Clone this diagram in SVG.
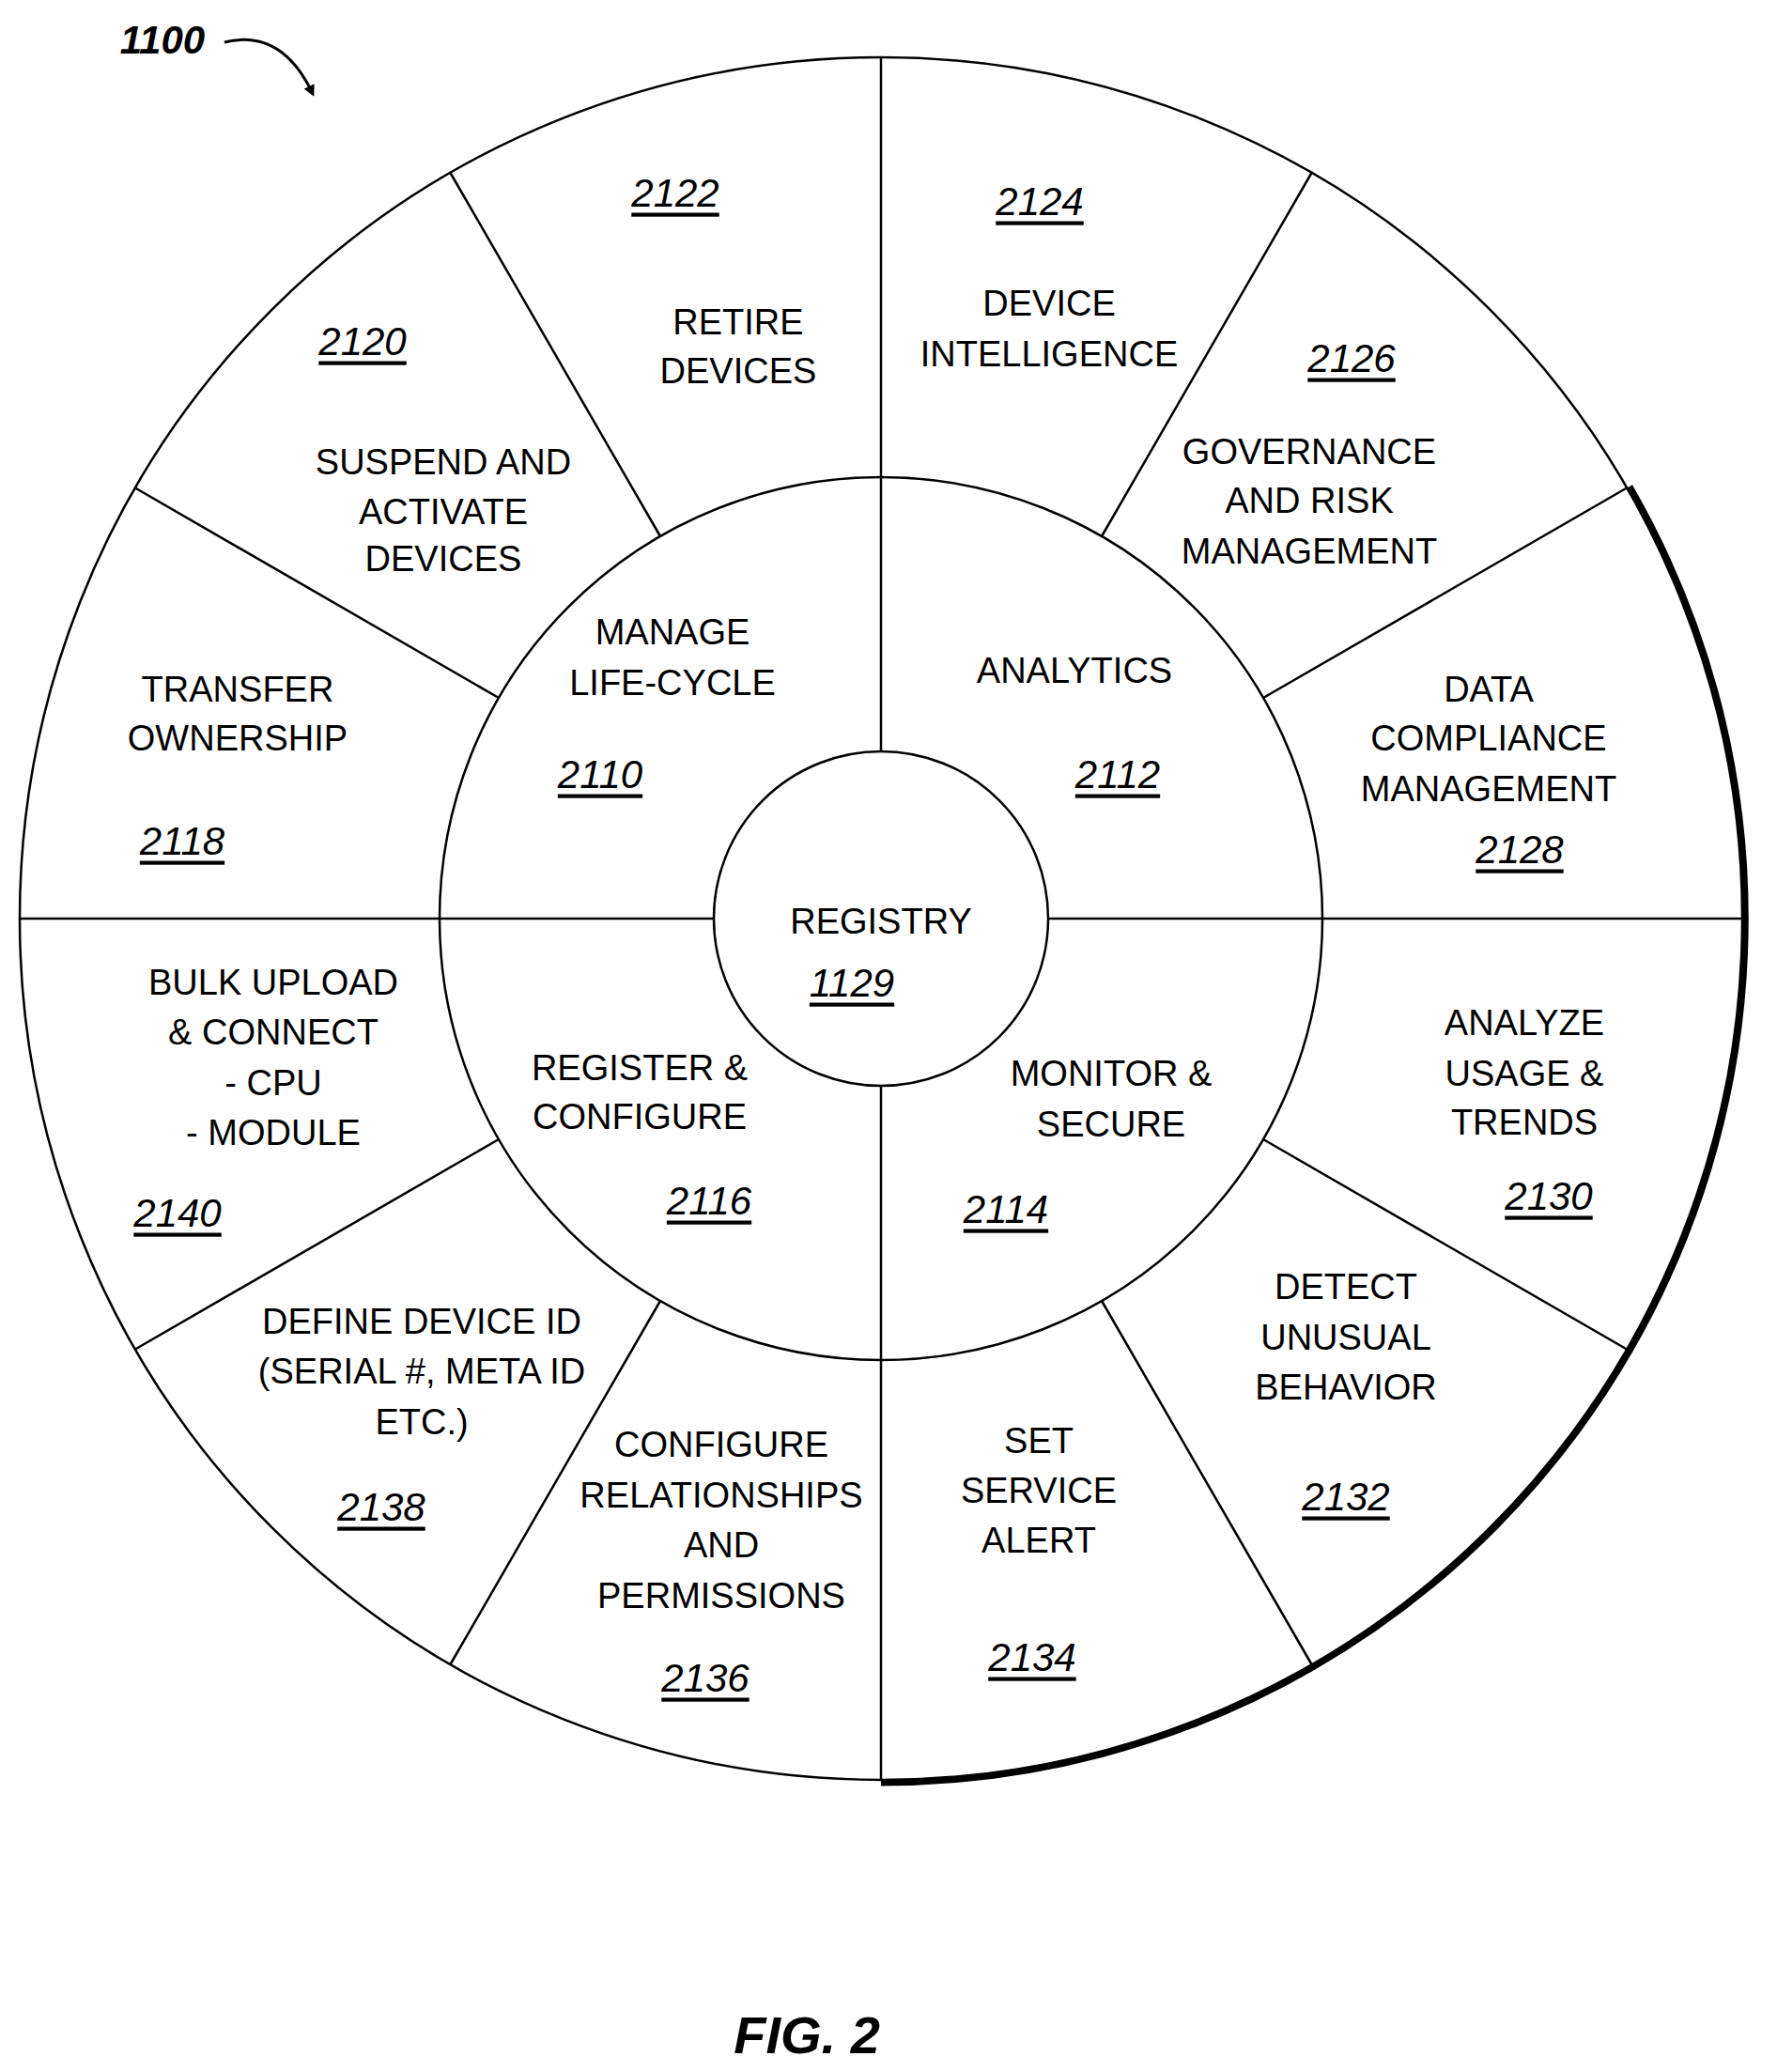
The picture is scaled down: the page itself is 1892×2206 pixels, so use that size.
<svg xmlns="http://www.w3.org/2000/svg" width="1892" height="2206" viewBox="0 0 1892 2206">
<style>
text{font-family:"Liberation Sans",Arial,sans-serif;font-size:38px;fill:#000;text-anchor:middle;dominant-baseline:central}
.n{font-style:italic;font-size:42px;text-decoration:underline}
.l{fill:none;stroke:#000;stroke-width:2.5}
</style>
<defs><marker id="ah" markerWidth="12" markerHeight="12" refX="9" refY="6" orient="auto" markerUnits="userSpaceOnUse"><path d="M0,0 L12,6 L0,12 Z"/></marker></defs>
<rect width="1892" height="2206" fill="#fff"/>
<g id="connectors">
<circle class="l" cx="938" cy="978" r="917"/>
<path d="M1735,518 A920,920 0 0 1 938,1898" fill="none" stroke="#000" stroke-width="7"/>
<circle class="l" cx="938" cy="978" r="470"/>
<circle class="l" cx="938" cy="978" r="178"/>
<path class="l" d="M938,61 V800 M938,1156 V1895 M21,978 H760 M1116,978 H1855"/>
<path class="l" d="M1345,743 L1732,519.5 M1173,571 L1396.5,184 M531,743 L144,519.5 M703,571 L479.5,184 M1345,1213 L1732,1436.5 M1173,1385 L1396.5,1772 M531,1213 L144,1436.5 M703,1385 L479.5,1772"/>
<path d="M239,45 Q300,30 333,100" fill="none" stroke="#000" stroke-width="3" marker-end="url(#ah)"/>
</g>
<g id="labels">
<text x="173" y="42" class="n" style="text-decoration:none;font-weight:bold">1100</text>
<text x="859" y="2166" style="font-style:italic;font-weight:bold;font-size:56px">FIG. 2</text>
</g>
<g id="n2122"><text x="719" y="205" class="n">2122</text><text x="786" y="343">RETIRE</text><text x="786" y="395">DEVICES</text></g>
<g id="n2124"><text x="1107" y="214" class="n">2124</text><text x="1117" y="323">DEVICE</text><text x="1117" y="377">INTELLIGENCE</text></g>
<g id="n2126"><text x="1439" y="381" class="n">2126</text><text x="1394" y="481">GOVERNANCE</text><text x="1394" y="533">AND RISK</text><text x="1394" y="587">MANAGEMENT</text></g>
<g id="n2120"><text x="386" y="363" class="n">2120</text><text x="472" y="492">SUSPEND AND</text><text x="472" y="545">ACTIVATE</text><text x="472" y="595">DEVICES</text></g>
<g id="n2118"><text x="253" y="734">TRANSFER</text><text x="253" y="786">OWNERSHIP</text><text x="194" y="895" class="n">2118</text></g>
<g id="n2110"><text x="716" y="673">MANAGE</text><text x="716" y="727">LIFE-CYCLE</text><text x="639" y="824" class="n">2110</text></g>
<g id="n2112"><text x="1144" y="714">ANALYTICS</text><text x="1190" y="824" class="n">2112</text></g>
<g id="n2128"><text x="1585" y="734">DATA</text><text x="1585" y="786">COMPLIANCE</text><text x="1585" y="840">MANAGEMENT</text><text x="1618" y="904" class="n">2128</text></g>
<g id="n1129"><text x="938" y="981">REGISTRY</text><text x="907" y="1046" class="n">1129</text></g>
<g id="n2140"><text x="291" y="1046">BULK UPLOAD</text><text x="291" y="1099">&amp; CONNECT</text><text x="291" y="1153">- CPU</text><text x="291" y="1206">- MODULE</text><text x="189" y="1291" class="n">2140</text></g>
<g id="n2116"><text x="681" y="1137">REGISTER &amp;</text><text x="681" y="1189">CONFIGURE</text><text x="755" y="1278" class="n">2116</text></g>
<g id="n2114"><text x="1183" y="1143">MONITOR &amp;</text><text x="1183" y="1197">SECURE</text><text x="1071" y="1287" class="n">2114</text></g>
<g id="n2130"><text x="1623" y="1089">ANALYZE</text><text x="1623" y="1143">USAGE &amp;</text><text x="1623" y="1195">TRENDS</text><text x="1649" y="1273" class="n">2130</text></g>
<g id="n2132"><text x="1433" y="1370">DETECT</text><text x="1433" y="1424">UNUSUAL</text><text x="1433" y="1477">BEHAVIOR</text><text x="1433" y="1593" class="n">2132</text></g>
<g id="n2138"><text x="449" y="1407">DEFINE DEVICE ID</text><text x="449" y="1460">(SERIAL #, META ID</text><text x="449" y="1514">ETC.)</text><text x="406" y="1604" class="n">2138</text></g>
<g id="n2136"><text x="768" y="1538">CONFIGURE</text><text x="768" y="1592">RELATIONSHIPS</text><text x="768" y="1645">AND</text><text x="768" y="1699">PERMISSIONS</text><text x="751" y="1786" class="n">2136</text></g>
<g id="n2134"><text x="1106" y="1534">SET</text><text x="1106" y="1587">SERVICE</text><text x="1106" y="1640">ALERT</text><text x="1099" y="1764" class="n">2134</text></g>
</svg>
